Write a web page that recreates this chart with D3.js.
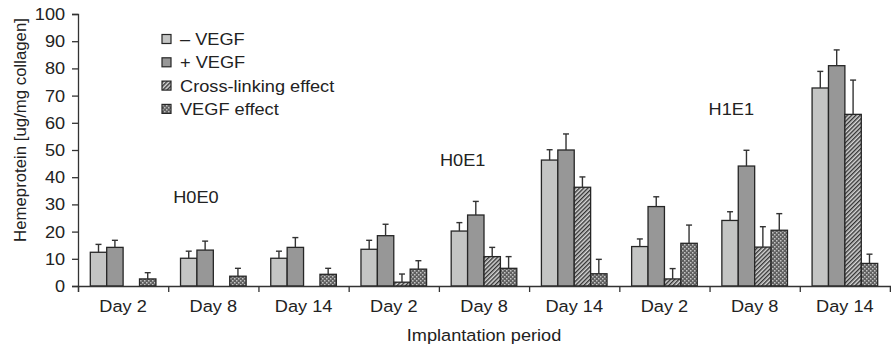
<!DOCTYPE html>
<html>
<head>
<meta charset="utf-8">
<script src="https://cdn.jsdelivr.net/npm/d3@7"></script>
<style>
  body { margin: 0; background: #fff; }
  text { font-family: "Liberation Sans", Arial, sans-serif; fill: #222; }
</style>
</head>
<body>
<div id="chart"></div>
<script>
// categories (implantation period, three hydrogel groups)
const days = ["Day 2", "Day 8", "Day 14", "Day 2", "Day 8", "Day 14", "Day 2", "Day 8", "Day 14"];
const groupNames = ["H0E0", "H0E1", "H1E1"];
const seriesNames = ["– VEGF", "+ VEGF", "Cross-linking effect", "VEGF effect"];

// bar values
const minusVEGF = [12.4, 10.2, 10.2, 13.5, 20.2, 46.3, 14.5, 24.1, 72.8];
const plusVEGF = [14.2, 13.2, 14.2, 18.5, 26.1, 50.0, 29.2, 44.1, 81.0];
const crossLinking = [0, 0, 0, 1.4, 10.8, 36.3, 2.6, 14.3, 63.1];
const vegfEffect = [2.6, 3.6, 4.3, 6.2, 6.5, 4.5, 15.7, 20.5, 8.3];

// upper error (SD)
const minusVEGFErr = [2.9, 2.6, 2.6, 3.3, 3.1, 3.8, 2.8, 3.2, 6.1];
const plusVEGFErr = [2.6, 3.3, 3.6, 4.2, 5.0, 5.9, 3.6, 5.8, 5.8];
const crossLinkingErr = [0, 0, 0, 3.0, 3.4, 3.8, 3.8, 7.5, 12.6];
const vegfEffectErr = [2.3, 2.9, 2.2, 3.1, 4.3, 5.3, 6.7, 6.1, 3.4];

const yTicks = [0, 10, 20, 30, 40, 50, 60, 70, 80, 90, 100];

const W = 891, H = 349;
const margin = {top: 14, right: 1, bottom: 63, left: 78};
const width = W - margin.left - margin.right;
const height = H - margin.top - margin.bottom;
const SX = 1.07; // slight horizontal stretch of the original lettering
const FS = "17px";

const values = [minusVEGF, plusVEGF, crossLinking, vegfEffect];
const errors = [minusVEGFErr, plusVEGFErr, crossLinkingErr, vegfEffectErr];

let svg = d3.select("#chart").append("svg")
    .attr("width", W)
    .attr("height", H);

// patterns
let defs = svg.append("defs");
let hatch = defs.append("pattern")
    .attr("id", "hatch")
    .attr("patternUnits", "userSpaceOnUse")
    .attr("width", 3)
    .attr("height", 3)
    .attr("patternTransform", "rotate(45)");
hatch.append("rect").attr("width", 3).attr("height", 3).attr("fill", "#d6d6d6");
hatch.append("line").attr("x1", 0.7).attr("x2", 0.7).attr("y1", 0).attr("y2", 3)
    .attr("stroke", "#333").attr("stroke-width", 1.4);

let dots = defs.append("pattern")
    .attr("id", "dots")
    .attr("patternUnits", "userSpaceOnUse")
    .attr("width", 4)
    .attr("height", 4);
dots.append("rect").attr("width", 4).attr("height", 4).attr("fill", "#5f5f5f");
dots.append("rect").attr("x", 0).attr("y", 0).attr("width", 1.5).attr("height", 1.5).attr("fill", "#c4c4c4");
dots.append("rect").attr("x", 2).attr("y", 2).attr("width", 1.5).attr("height", 1.5).attr("fill", "#c4c4c4");

const fills = ["#c4c5c4", "#979797", "url(#hatch)", "url(#dots)"];

let g = svg.append("g")
    .attr("transform", "translate(" + margin.left + "," + margin.top + ")");

// scales
let x0 = d3.scaleBand()
    .domain(d3.range(days.length))
    .range([0, width])
    .padding(0);
let x1 = d3.scaleBand()
    .domain(d3.range(seriesNames.length))
    .range([0, x0.bandwidth()])
    .paddingInner(0)
    .paddingOuter(0.75);
let y = d3.scaleLinear()
    .domain([0, 100])
    .range([height, 0]);

// bars
values.forEach(function (arr, s) {
    g.append("g")
        .selectAll("rect")
        .data(arr.map(function (v, i) { return {i: i, v: v}; }).filter(function (d) { return d.v > 0; }))
        .enter()
        .append("rect")
        .attr("x", function (d) { return x0(d.i) + x1(s); })
        .attr("y", function (d) { return y(d.v); })
        .attr("width", x1.bandwidth())
        .attr("height", function (d) { return height - y(d.v); })
        .attr("fill", fills[s])
        .attr("stroke", "#262626")
        .attr("stroke-width", 1.3);
});

// error bars (upper only)
values.forEach(function (arr, s) {
    let eg = g.append("g").attr("stroke", "#333").attr("stroke-width", 1.4);
    arr.forEach(function (v, i) {
        let e = errors[s][i];
        if (!(v > 0) || !(e > 0)) return;
        let cx = x0(i) + x1(s) + x1.bandwidth() / 2;
        eg.append("line")
            .attr("x1", cx).attr("x2", cx)
            .attr("y1", y(v)).attr("y2", y(v + e));
        eg.append("line")
            .attr("x1", cx - 3).attr("x2", cx + 3)
            .attr("y1", y(v + e)).attr("y2", y(v + e));
    });
});

// y axis
let yAxis = g.append("g")
    .call(d3.axisLeft(y).tickValues(yTicks).tickSize(6).tickPadding(6));
yAxis.selectAll("text")
    .style("font-size", FS)
    .attr("transform", "scale(" + SX + ",1)");

// x axis: boundary ticks
let xb = d3.scaleLinear().domain([0, days.length]).range([0, width]);
let xAxis = g.append("g")
    .attr("transform", "translate(0," + height + ")")
    .call(d3.axisBottom(xb).ticks(days.length).tickFormat("").tickSize(6));
// x axis: labels at band centers
let xLab = g.append("g")
    .attr("transform", "translate(0," + height + ")")
    .call(d3.axisBottom(x0).tickSize(0).tickPadding(14).tickFormat(function (i) { return days[i]; }));
xLab.select(".domain").remove();
xLab.selectAll("text")
    .style("font-size", FS)
    .attr("transform", "scale(" + SX + ",1)");

g.selectAll(".domain, .tick line").attr("stroke", "#333").attr("stroke-width", 1.3);
g.selectAll(".tick text").attr("fill", "#222");

// group labels
const groupAt = [{c: 1, v: 30.5, dx: 5}, {c: 4, v: 44, dx: 1}, {c: 7, v: 63, dx: -1}];
groupNames.forEach(function (name, k) {
    g.append("text")
        .attr("transform", "translate(" + (x0(groupAt[k].c) + groupAt[k].dx) + "," + y(groupAt[k].v) + ") scale(" + SX + ",1)")
        .style("font-size", FS)
        .text(name);
});

// legend
let legend = svg.append("g").attr("transform", "translate(162,39)");
seriesNames.forEach(function (name, k) {
    let row = legend.append("g").attr("transform", "translate(0," + (k * 23.3) + ")");
    row.append("rect")
        .attr("x", 0).attr("y", -4.5)
        .attr("width", 9).attr("height", 9)
        .attr("fill", fills[k])
        .attr("stroke", "#262626")
        .attr("stroke-width", 1.2);
    row.append("text")
        .attr("transform", "translate(18,6) scale(" + SX + ",1)")
        .style("font-size", FS)
        .text(name);
});

// axis titles
svg.append("text")
    .attr("transform", "translate(" + (margin.left + width / 2) + ",341) scale(" + SX + ",1)")
    .attr("text-anchor", "middle")
    .style("font-size", FS)
    .text("Implantation period");
svg.append("text")
    .attr("transform", "translate(26,130) rotate(-90)")
    .attr("text-anchor", "middle")
    .style("font-size", "16.8px")
    .text("Hemeprotein [ug/mg collagen]");
</script>
</body>
</html>
